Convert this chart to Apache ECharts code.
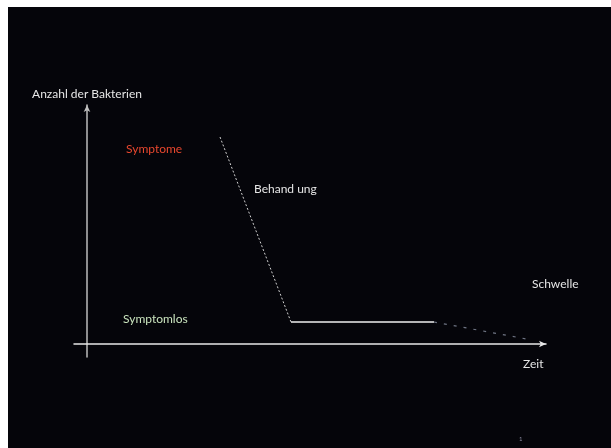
<!DOCTYPE html>
<html><head><meta charset="utf-8">
<script src="https://cdn.jsdelivr.net/npm/echarts@6/dist/echarts.min.js"></script>
<style>html,body{margin:0;padding:0;background:#fff}#c{width:611px;height:448px}</style>
</head><body><div id="c"></div>
<script>
// Data (x: time units, y: bacteria units)
const treatmentLine = [[13.3, 20.7], [20.4, 2.2]];
const plateauLine = [[20.4, 2.2], [34.7, 2.2]];
const declineLine = [[34.7, 2.2], [44.5, 0.4]];
const axisNames = { y: 'Anzahl der Bakterien', x: 'Zeit' };
const annotations = [
  { text: 'Symptome', x: 126, y: 149, color: '#e8472e' },
  { text: 'Behand ung', x: 254, y: 189, color: '#e6e6e6' },
  { text: 'Symptomlos', x: 123, y: 319, color: '#c9e3bd' },
  { text: 'Schwelle', x: 532, y: 284, color: '#e6e6e6' },
  { text: 'Zeit', x: 523, y: 364, color: '#e6e6e6' }
];

const FONT = 'Lato';
const chart = echarts.init(document.getElementById('c'));
chart.setOption({
  backgroundColor: '#ffffff',
  animation: false,
  graphic: [
    { type: 'rect', z: -10, shape: { x: 8, y: 7, width: 603, height: 441 }, style: { fill: '#05050a' } }
  ].concat(annotations.map(a => ({
    type: 'text', x: a.x, y: a.y, z: 10,
    style: { text: a.text, fill: a.color, font: '12px ' + FONT, textVerticalAlign: 'middle' }
  }))).concat([
    { type: 'text', x: 519, y: 439, style: { text: '1', fill: '#8a8aa0', font: '6px ' + FONT, textVerticalAlign: 'middle' } }
  ]),
  grid: { left: 74, right: 65, top: 105, bottom: 91 },
  xAxis: {
    type: 'value', min: -1.3, max: 45.9,
    axisLine: { show: true, onZero: true, symbol: ['none', 'arrow'], symbolSize: [5, 7], lineStyle: { color: '#e8e8e8', width: 1.5 } },
    axisTick: { show: false }, axisLabel: { show: false }, splitLine: { show: false }
  },
  yAxis: {
    type: 'value', min: -1.3, max: 23.9,
    name: axisNames.y, nameLocation: 'end', nameGap: 5,
    nameTextStyle: { color: '#e6e6e6', fontFamily: FONT, fontSize: 12, align: 'center' },
    axisLine: { show: true, onZero: true, symbol: ['none', 'arrow'], symbolSize: [5, 7], lineStyle: { color: '#bdbdbd', width: 1.5 } },
    axisTick: { show: false }, axisLabel: { show: false }, splitLine: { show: false }
  },
  series: [
    { type: 'line', data: treatmentLine, symbol: 'none', lineStyle: { color: '#d0d0d0', width: 1, type: [2, 2] } },
    { type: 'line', data: plateauLine, symbol: 'none', lineStyle: { color: '#f0f0f0', width: 1.5 } },
    { type: 'line', data: declineLine, symbol: 'none', lineStyle: { color: '#6f7584', width: 1.2, type: [3, 7] } }
  ]
});
</script></body></html>
